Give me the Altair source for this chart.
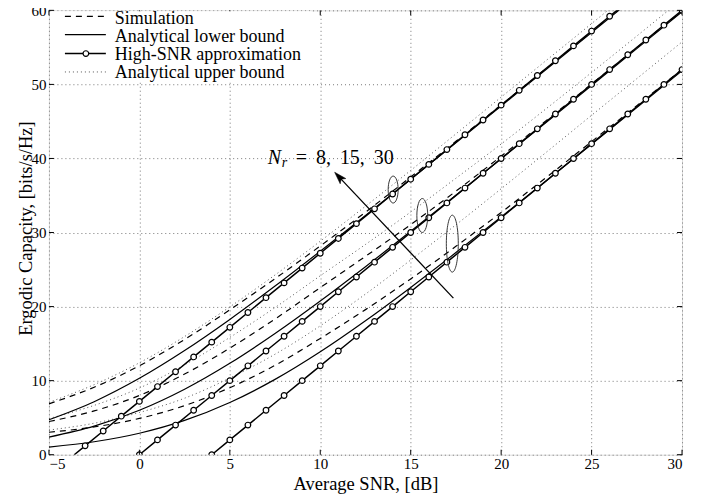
import altair as alt
import pandas as pd

# ---------------- data ----------------
snr = [-5, -2.5, 0, 2.5, 5, 7.5, 10, 12.5, 15, 17.5, 20, 22.5, 25, 27.5, 30]

# Analytical lower bound (solid)
lb_30 = [4.72, 7.16, 10.31, 14.06, 18.26, 22.77, 27.48, 32.30, 37.19, 42.12, 47.08, 52.05, 57.01, 61.99, 66.98]
lb_15 = [2.38, 3.86, 6.00, 8.84, 12.34, 16.37, 20.76, 25.39, 30.17, 35.03, 39.95, 44.89, 49.86, 54.83, 59.80]
lb_8 = [1.03, 1.75, 2.90, 4.63, 7.05, 10.17, 13.90, 18.09, 22.59, 27.29, 32.11, 37.00, 41.93, 46.88, 51.84]

# Simulation (dashed)
sim_30 = [6.87, 9.11, 12.01, 15.56, 19.56, 23.77, 28.18, 32.75, 37.49, 42.32, 47.23, 52.15, 57.11, 62.09, 67.08]
sim_15 = [4.48, 5.91, 8.00, 10.89, 14.39, 18.32, 22.56, 26.79, 31.07, 35.58, 40.30, 45.14, 50.06, 54.98, 59.90]
sim_8 = [3.03, 3.75, 4.90, 6.63, 9.05, 12.07, 15.70, 19.59, 23.74, 28.14, 32.71, 37.45, 42.28, 47.13, 52.04]

# Analytical upper bound (dotted)
ub_30 = [7.07, 9.46, 12.41, 15.96, 19.96, 24.27, 28.83, 33.55, 38.39, 43.32, 48.28, 53.25, 58.21, 63.19, 68.18]
ub_15 = [4.88, 6.66, 9.00, 12.14, 15.84, 19.87, 24.16, 28.39, 32.77, 37.33, 41.95, 46.74, 51.61, 56.53, 61.50]
ub_8 = [3.33, 4.25, 5.70, 7.63, 10.35, 13.57, 17.40, 21.69, 26.29, 31.04, 35.91, 40.85, 45.83, 50.78, 55.74]

# High-SNR approximation (line with circle markers)
hs_30_x = [-3.6, -3, -2, -1, 0, 1, 2, 3, 4, 5, 6, 7, 8, 9, 10, 11, 12, 13, 14, 15, 16, 17, 18, 19, 20, 21, 22, 23, 24, 25, 26, 26.4]
hs_30_y = [0, 1.2, 3.2, 5.2, 7.2, 9.2, 11.2, 13.2, 15.2, 17.2, 19.2, 21.2, 23.2, 25.2, 27.2, 29.2, 31.2, 33.2, 35.2, 37.2, 39.2, 41.2, 43.2, 45.2, 47.2, 49.2, 51.2, 53.2, 55.2, 57.2, 59.2, 60]
hs_30_mark = [False] + [True] * 30 + [False]
hs_15_x = [0, 1, 2, 3, 4, 5, 6, 7, 8, 9, 10, 11, 12, 13, 14, 15, 16, 17, 18, 19, 20, 21, 22, 23, 24, 25, 26, 27, 28, 29, 30]
hs_15_y = [0, 2, 4, 6, 8, 10, 12, 14, 16, 18, 20, 22, 24, 26, 28, 30, 32, 34, 36, 38, 40, 42, 44, 46, 48, 50, 52, 54, 56, 58, 60]
hs_8_x = [4, 5, 6, 7, 8, 9, 10, 11, 12, 13, 14, 15, 16, 17, 18, 19, 20, 21, 22, 23, 24, 25, 26, 27, 28, 29, 30]
hs_8_y = [0, 2, 4, 6, 8, 10, 12, 14, 16, 18, 20, 22, 24, 26, 28, 30, 32, 34, 36, 38, 40, 42, 44, 46, 48, 50, 52]

x_ticks = [-5, 0, 5, 10, 15, 20, 25, 30]
y_ticks = [0, 10, 20, 30, 40, 50, 60]

legend_labels = ["Simulation", "Analytical lower bound", "High-SNR approximation", "Analytical upper bound"]
annot_text = "=\u2009 8,\u2009 15,\u2009 30"

# annotation geometry (data units)
ellipse_x = [14.03, 15.64, 17.30]
ellipse_y = [35.8, 32.3, 28.5]
arrow_tail = (17.36, 21.14)
arrow_head = (11.06, 37.45)

FONT = "Liberation Serif"
W, H = 634, 445


def long(vals, name):
    rows = []
    for g, ys in vals:
        for x, y in zip(snr, ys):
            rows.append({"snr": x, "cap": y, "group": g, "kind": name})
    return pd.DataFrame(rows)


df_lb = long([("30", lb_30), ("15", lb_15), ("8", lb_8)], "lb")
df_sim = long([("30", sim_30), ("15", sim_15), ("8", sim_8)], "sim")
df_ub = long([("30", ub_30), ("15", ub_15), ("8", ub_8)], "ub")

hs_rows = []
for g, xs, ys, ms in [("30", hs_30_x, hs_30_y, hs_30_mark),
                      ("15", hs_15_x, hs_15_y, [True] * len(hs_15_x)),
                      ("8", hs_8_x, hs_8_y, [True] * len(hs_8_x))]:
    for x, y, m in zip(xs, ys, ms):
        hs_rows.append({"snr": x, "cap": y, "group": g, "mark": m})
df_hs = pd.DataFrame(hs_rows)
df_hs_pts = df_hs[df_hs["mark"]]

xscale = alt.Scale(domain=[-5, 30], nice=False, zero=False)
yscale = alt.Scale(domain=[0, 60], nice=False, zero=False)

xaxis = alt.Axis(values=x_ticks, title="Average SNR, [dB]",
                 grid=True, gridDash=[1, 3], gridColor="#777", gridWidth=1,
                 ticks=False, domain=False, labelFont=FONT, labelFontSize=15,
                 labelColor="black", labelPadding=2, titleFont=FONT, titleFontSize=18.5,
                 titleFontWeight="normal", titleColor="black", titleY=35,
                 titleBaseline="alphabetic")
yaxis = alt.Axis(values=y_ticks, title="Ergodic Capacity, [bits/s/Hz]",
                 grid=True, gridDash=[1, 3], gridColor="#777", gridWidth=1,
                 ticks=False, domain=False, labelFont=FONT, labelFontSize=15,
                 labelColor="black", labelPadding=3, titleFont=FONT, titleFontSize=18.5,
                 titleFontWeight="normal", titleColor="black", titleX=-13, titleY=218,
                 titleBaseline="bottom")

X = alt.X("snr:Q", scale=xscale, axis=xaxis)
Y = alt.Y("cap:Q", scale=yscale, axis=yaxis)

ub_layer = alt.Chart(df_ub).mark_line(color="#555", strokeWidth=1, strokeDash=[1, 3],
                                      interpolate="monotone", clip=True).encode(x=X, y=Y, detail="group:N")
sim_layer = alt.Chart(df_sim).mark_line(color="black", strokeWidth=1.2, strokeDash=[6, 5],
                                        interpolate="monotone", clip=True).encode(x=X, y=Y, detail="group:N")
lb_layer = alt.Chart(df_lb).mark_line(color="black", strokeWidth=1.2,
                                      interpolate="monotone", clip=True).encode(x=X, y=Y, detail="group:N")
hs_line = alt.Chart(df_hs).mark_line(color="black", strokeWidth=1.5, clip=True).encode(
    x=X, y=Y, detail="group:N")
hs_pts = alt.Chart(df_hs_pts).mark_point(shape="circle", filled=True, fill="white", stroke="black",
                                         strokeWidth=1.2, size=32, opacity=1, clip=True).encode(x=X, y=Y)

# inward tick marks on all four sides (MATLAB style box)
xt = pd.DataFrame({"snr": x_ticks})
yt = pd.DataFrame({"cap": y_ticks})
tick_b = alt.Chart(xt).mark_rule(color="black", strokeWidth=1).encode(
    x=X, y=alt.value(H), y2=alt.value(H - 5))
tick_t = alt.Chart(xt).mark_rule(color="black", strokeWidth=1).encode(
    x=X, y=alt.value(0), y2=alt.value(5))
tick_l = alt.Chart(yt).mark_rule(color="black", strokeWidth=1).encode(
    y=Y, x=alt.value(0), x2=alt.value(5))
tick_r = alt.Chart(yt).mark_rule(color="black", strokeWidth=1).encode(
    y=Y, x=alt.value(W), x2=alt.value(W - 5))

# ellipses
ell_shapes = [
    "M0,-1A0.37,1,0,1,1,0,1A0.37,1,0,1,1,0,-1Z",
    "M0,-1A0.32,1,0,1,1,0,1A0.32,1,0,1,1,0,-1Z",
    "M0,-1A0.21,1,0,1,1,0,1A0.21,1,0,1,1,0,-1Z",
]
ell_sizes = [729, 1156, 3249]
ell_layers = []
for ex, ey, sh, sz in zip(ellipse_x, ellipse_y, ell_shapes, ell_sizes):
    d = pd.DataFrame({"snr": [ex], "cap": [ey]})
    ell_layers.append(alt.Chart(d).mark_point(shape=sh, size=sz, filled=False, stroke="#222",
                                              strokeWidth=0.9, opacity=1).encode(x=X, y=Y))

# arrow
arrow_df = pd.DataFrame({"snr": [arrow_tail[0]], "cap": [arrow_tail[1]],
                         "snr2": [arrow_head[0]], "cap2": [arrow_head[1]]})
arrow_line = alt.Chart(arrow_df).mark_rule(color="black", strokeWidth=1.3).encode(
    x=X, y=Y, x2="snr2:Q", y2="cap2:Q")
arrow_tip = alt.Chart(pd.DataFrame({"snr": [arrow_head[0]], "cap": [arrow_head[1]]})).mark_point(
    shape="M0,-1L0.55,0.75L0,0.35L-0.55,0.75Z", size=196, filled=True, fill="black",
    stroke="black", strokeWidth=0.5, angle=317, opacity=1).encode(x=X, y=Y)

# annotation text N_r = 8, 15, 30
ann_N = alt.Chart(pd.DataFrame({"snr": [7.09], "cap": [39.3], "t": ["N"]})).mark_text(
    font=FONT, fontSize=20, fontStyle="italic", align="left", baseline="alphabetic", color="black").encode(
    x=X, y=Y, text="t:N")
ann_r = alt.Chart(pd.DataFrame({"snr": [7.87], "cap": [38.8], "t": ["r"]})).mark_text(
    font=FONT, fontSize=14, fontStyle="italic", align="left", baseline="alphabetic", color="black").encode(
    x=X, y=Y, text="t:N")
ann_rest = alt.Chart(pd.DataFrame({"snr": [8.64], "cap": [39.3], "t": [annot_text]})).mark_text(
    font=FONT, fontSize=20, align="left", baseline="alphabetic", color="black").encode(
    x=X, y=Y, text="t:N")

# legend (drawn inside the plot, top-left)
one = pd.DataFrame({"a": [0]})
leg_bg = alt.Chart(one).mark_rect(color="white", opacity=1).encode(
    x=alt.value(3), x2=alt.value(263), y=alt.value(1), y2=alt.value(72))
leg_rows_y = [6, 24.3, 43.3, 61.7]
leg_text_y = [14, 31.5, 49.5, 67.3]
leg_sim = alt.Chart(one).mark_rule(color="black", strokeWidth=1.2, strokeDash=[6, 5]).encode(
    x=alt.value(16), x2=alt.value(57), y=alt.value(leg_rows_y[0]))
leg_lb = alt.Chart(one).mark_rule(color="black", strokeWidth=1.2).encode(
    x=alt.value(16), x2=alt.value(57), y=alt.value(leg_rows_y[1]))
leg_hs = alt.Chart(one).mark_rule(color="black", strokeWidth=1.5).encode(
    x=alt.value(16), x2=alt.value(57), y=alt.value(leg_rows_y[2]))
leg_hs_pt = alt.Chart(one).mark_point(shape="circle", filled=True, fill="white", stroke="black",
                                      strokeWidth=1.2, size=32, opacity=1).encode(
    x=alt.value(37), y=alt.value(leg_rows_y[2]))
leg_ub = alt.Chart(one).mark_rule(color="#555", strokeWidth=1, strokeDash=[1, 3]).encode(
    x=alt.value(16), x2=alt.value(57), y=alt.value(leg_rows_y[3]))
leg_text_df = pd.DataFrame({"label": legend_labels, "ty": leg_text_y})
leg_text = alt.Chart(leg_text_df).mark_text(font=FONT, fontSize=18, align="left",
                                            baseline="alphabetic", color="black").encode(
    x=alt.value(66), y=alt.Y("ty:Q", scale=None), text="label:N")

chart = alt.layer(
    ub_layer, sim_layer, lb_layer, hs_line, hs_pts,
    tick_b, tick_t, tick_l, tick_r,
    *ell_layers, arrow_line, arrow_tip, ann_N, ann_r, ann_rest,
    leg_bg, leg_sim, leg_lb, leg_hs, leg_hs_pt, leg_ub, leg_text
).properties(
    width=W, height=H,
    autosize=alt.AutoSizeParams(type="none"),
    padding={"left": 41, "top": 2, "right": 20, "bottom": 40},
).configure_view(stroke="black", strokeWidth=1.5).configure(background="white")

chart.save("out.html", embed_options={"renderer": "svg", "actions": False})
